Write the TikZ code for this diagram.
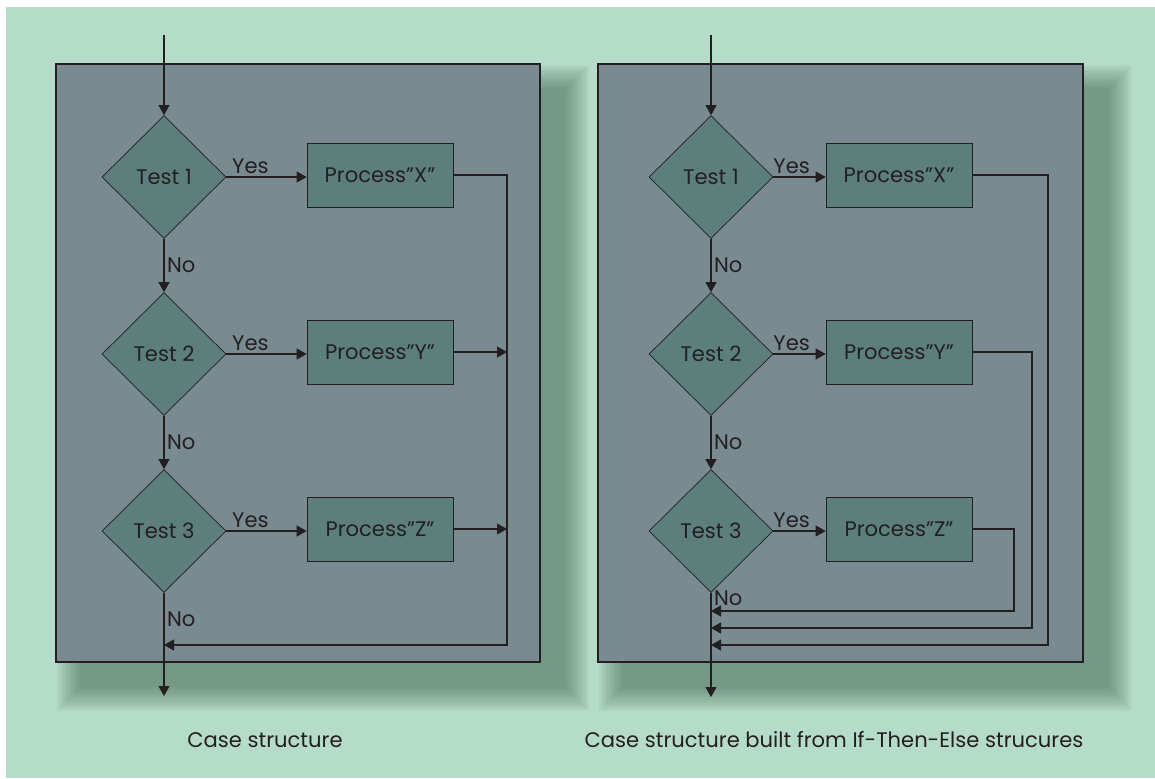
\documentclass[tikz,border=0pt]{standalone}
\usepackage{fontspec}
\setmainfont{Poppins}
\usepackage{tikz}
\usetikzlibrary{arrows.meta,shapes.geometric}

\definecolor{bggreen}{HTML}{B5DCC8}
\definecolor{panelgray}{HTML}{798A91}
\definecolor{boxteal}{HTML}{5C7F7C}
\definecolor{inkdark}{HTML}{231F20}
\definecolor{shadowgreen}{HTML}{3F5E4C}

\tikzset{
  decision/.style={diamond, draw=inkdark, fill=boxteal, minimum width=2.48cm, minimum height=2.46cm, inner sep=0pt},
  process/.style={rectangle, draw=inkdark, fill=boxteal, minimum width=2.92cm, minimum height=1.28cm},
  arr/.style={draw=inkdark, line width=0.6pt, -{Triangle[length=2mm,width=2.2mm]}},
  lbl/.style={inner sep=1.5pt},
  panel/.style={fill=panelgray, draw=inkdark, line width=0.6pt},
}

\begin{document}
\begin{tikzpicture}[x=0.02cm, y=-0.02cm, text=inkdark, font=\fontsize{12}{14}\selectfont]

\useasboundingbox (0,0) rectangle (1155,778);
\fill[white] (0,0) rectangle (1155,778);
\fill[bggreen] (6,7) rectangle (1155,778);

% soft shadows behind the two panels
\foreach \e in {0,2,...,24} {
  \fill[shadowgreen, opacity=0.05] (81-\e,89-\e) rectangle (565+\e,687+\e);
  \fill[shadowgreen, opacity=0.05] (623-\e,89-\e) rectangle (1108+\e,687+\e);
}

\draw[panel] (56,64) rectangle (540,662);
\draw[panel] (598,64) rectangle (1083,662);

% left: case structure
\node[decision] (lt1) at (164,177) {Test 1};
\node[decision] (lt2) at (164,354) {Test 2};
\node[decision] (lt3) at (164,531) {Test 3};
\node[process] (lpx) at (380,175) {Process”X”};
\node[process] (lpy) at (380,352) {Process”Y”};
\node[process] (lpz) at (380,529) {Process”Z”};
\coordinate (lin) at (164,35);
\coordinate (lout) at (164,696);
\coordinate (lbus) at (507,645);

\draw[arr] (lin) -- (lt1);
\draw[arr] (lt1) -- node[lbl, right] {No} (lt2);
\draw[arr] (lt2) -- node[lbl, right] {No} (lt3);
\draw[arr] (lt3) -- node[lbl, right, pos=0.26] {No} (lout);
\draw[arr] (lt1.east) -- node[lbl, above, pos=0.3] {Yes} (lt1.east -| lpx.west);
\draw[arr] (lt2.east) -- node[lbl, above, pos=0.3] {Yes} (lt2.east -| lpy.west);
\draw[arr] (lt3.east) -- node[lbl, above, pos=0.3] {Yes} (lt3.east -| lpz.west);
\draw[arr] (lpx.east) -| (lbus) -- (lbus -| lt3);
\draw[arr] (lpy.east) -- (lpy.east -| lbus);
\draw[arr] (lpz.east) -- (lpz.east -| lbus);

% right: built from if-then-else
\node[decision] (rt1) at (711,177) {Test 1};
\node[decision] (rt2) at (711,354) {Test 2};
\node[decision] (rt3) at (711,531) {Test 3};
\node[process] (rpx) at (899,175) {Process”X”};
\node[process] (rpy) at (899,352) {Process”Y”};
\node[process] (rpz) at (899,529) {Process”Z”};
\coordinate (rin) at (711,35);
\coordinate (rout) at (711,697);
\coordinate (rzbus) at (1014,611);
\coordinate (rybus) at (1032,628);
\coordinate (rxbus) at (1048,645);

\draw[arr] (rin) -- (rt1);
\draw[arr] (rt1) -- node[lbl, right] {No} (rt2);
\draw[arr] (rt2) -- node[lbl, right] {No} (rt3);
\draw[arr] (rt3) -- node[lbl, right, pos=0.05] {No} (rout);
\draw[arr] (rt1.east) -- node[lbl, above, pos=0.35] {Yes} (rt1.east -| rpx.west);
\draw[arr] (rt2.east) -- node[lbl, above, pos=0.35] {Yes} (rt2.east -| rpy.west);
\draw[arr] (rt3.east) -- node[lbl, above, pos=0.35] {Yes} (rt3.east -| rpz.west);
\draw[arr] (rpz.east) -| (rzbus) -- (rzbus -| rt3);
\draw[arr] (rpy.east) -| (rybus) -- (rybus -| rt3);
\draw[arr] (rpx.east) -| (rxbus) -- (rxbus -| rt3);

\node (lcap) at (265,740) {Case structure};
\node (rcap) at (834,740) {Case structure built from If-Then-Else strucures};

\end{tikzpicture}
\end{document}
